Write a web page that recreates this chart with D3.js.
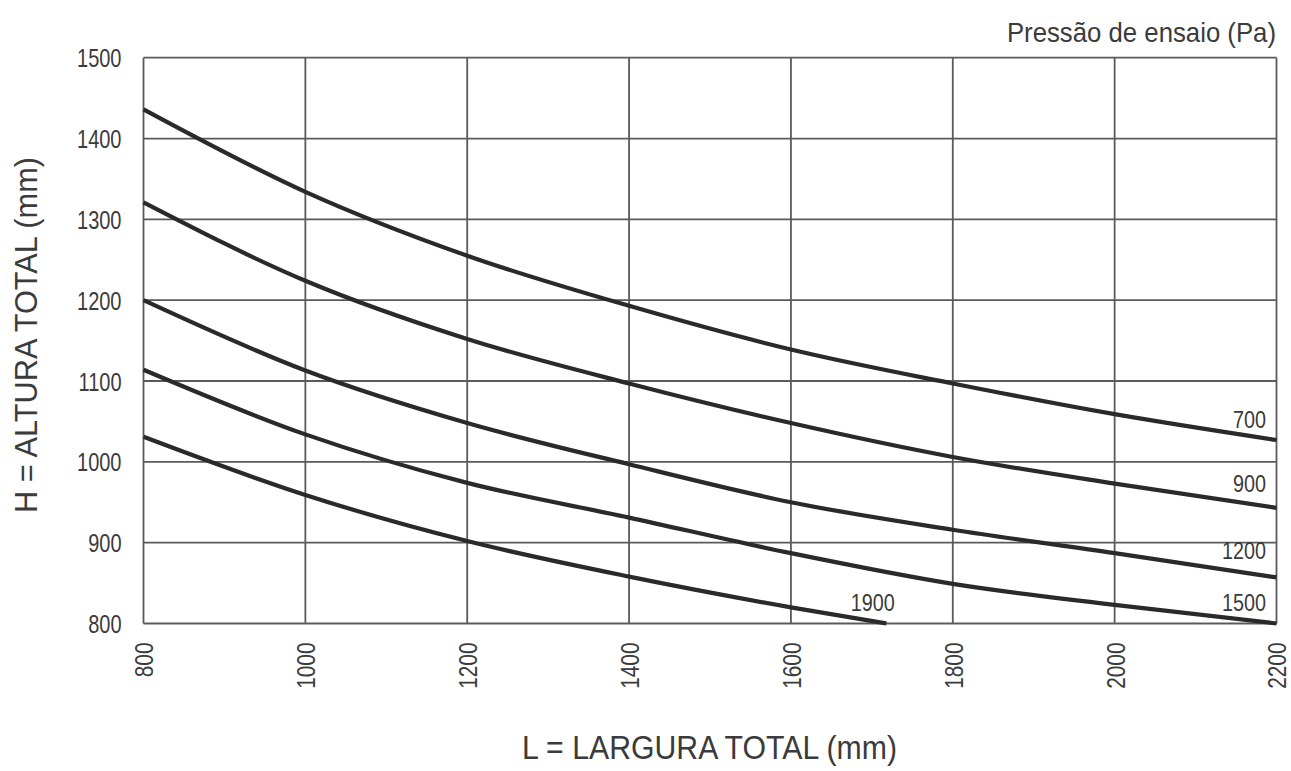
<!DOCTYPE html>
<html>
<head>
<meta charset="utf-8">
<script src="https://cdn.jsdelivr.net/npm/d3@7"></script>
<style>
  html, body { margin: 0; padding: 0; background: #fff; }
  svg text { font-family: "Liberation Sans", Arial, sans-serif; fill: #3b3b3b; }
</style>
</head>
<body>
<svg id="chart" width="1291" height="771"></svg>
<script>
// ---- data ----
const widths = [800, 1000, 1200, 1400, 1600, 1800, 2000, 2200];
const pressures = ["700", "900", "1200", "1500", "1900"];
const h700  = [1436, 1334, 1255, 1193, 1139, 1097, 1059, 1027];
const h900  = [1321, 1224, 1152, 1097, 1048, 1006, 973, 943];
const h1200 = [1200, 1113, 1048, 997, 950, 916, 887, 857];
const h1500 = [1114, 1034, 974, 931, 887, 849, 823, 800];
const widths1900 = [800, 1000, 1200, 1400, 1600, 1718];
const h1900 = [1031, 959, 902, 858, 820, 800];
const xTicks = [800, 1000, 1200, 1400, 1600, 1800, 2000, 2200];
const yTicks = [800, 900, 1000, 1100, 1200, 1300, 1400, 1500];
const xTitle = "L = LARGURA TOTAL (mm)";
const yTitle = "H = ALTURA TOTAL (mm)";
const legendTitle = "Pressão de ensaio (Pa)";

const series = [
  { name: "700",  xs: widths, ys: h700 },
  { name: "900",  xs: widths, ys: h900 },
  { name: "1200", xs: widths, ys: h1200 },
  { name: "1500", xs: widths, ys: h1500 },
  { name: "1900", xs: widths1900, ys: h1900 }
];

// ---- layout ----
const svg = d3.select("#chart");
const pLeft = 143.5, pRight = 1276.5, pTop = 57.7, pBottom = 623.5;
const x = d3.scaleLinear().domain([800, 2200]).range([pLeft, pRight]);
const y = d3.scaleLinear().domain([800, 1500]).range([pBottom, pTop]);

const gridColor = "#5a5a5a";
const textColor = "#3b3b3b";
const squeeze = 0.8;

// grid
const g = svg.append("g");
g.selectAll("line.v").data(xTicks).enter().append("line")
  .attr("x1", d => x(d)).attr("x2", d => x(d))
  .attr("y1", pTop).attr("y2", pBottom)
  .attr("stroke", gridColor).attr("stroke-width", 1.8);
g.selectAll("line.h").data(yTicks).enter().append("line")
  .attr("x1", pLeft).attr("x2", pRight)
  .attr("y1", d => y(d)).attr("y2", d => y(d))
  .attr("stroke", gridColor).attr("stroke-width", 1.8);

// axes tick labels
const yAxis = d3.axisLeft(y).tickValues(yTicks).tickSize(0).tickFormat(d3.format("d"));
const ya = svg.append("g").attr("transform", `translate(${pLeft},0)`).call(yAxis);
ya.select(".domain").remove();
ya.attr("font-family", null).attr("font-size", null);
ya.selectAll("text").attr("font-size", 25).style("fill", textColor)
  .attr("x", 0).attr("dy", "0.36em")
  .attr("transform", `translate(-22,0) scale(${squeeze},1)`);

const xAxis = d3.axisBottom(x).tickValues(xTicks).tickSize(0).tickFormat(d3.format("d"));
const xa = svg.append("g").attr("transform", `translate(0,${pBottom})`).call(xAxis);
xa.select(".domain").remove();
xa.attr("font-family", null).attr("font-size", null);
xa.selectAll("text").attr("font-size", 26).style("fill", textColor)
  .attr("text-anchor", "end")
  .attr("x", 0).attr("y", 0).attr("dy", "0.36em")
  .attr("transform", `rotate(-90) translate(-19,0) scale(${squeeze},1)`);

// curves
const line = d3.line().curve(d3.curveMonotoneX);
svg.append("g").selectAll("path").data(series).enter().append("path")
  .attr("d", s => line(s.xs.map((v, i) => [x(v), y(s.ys[i])])))
  .attr("fill", "none").attr("stroke", "#2a2a2a").attr("stroke-width", 4.2)
  .attr("stroke-linecap", "butt");

// curve labels
const labelPos = [
  { name: "700",  lx: 2187, ly: 1042, anchor: "end" },
  { name: "900",  lx: 2187, ly: 963,  anchor: "end" },
  { name: "1200", lx: 2187, ly: 880,  anchor: "end" },
  { name: "1500", lx: 2187, ly: 815,  anchor: "end" },
  { name: "1900", lx: 1701, ly: 815,  anchor: "middle" }
];
svg.append("g").selectAll("text").data(labelPos).enter().append("text")
  .attr("transform", d => `translate(${x(d.lx)},${y(d.ly)}) scale(0.86,1)`)
  .attr("text-anchor", d => d.anchor)
  .attr("font-size", 23)
  .text(d => d.name);

// titles
svg.append("text")
  .attr("transform", "translate(1276,41.5) scale(0.92,1)")
  .attr("text-anchor", "end").attr("font-size", 28)
  .text(legendTitle);

svg.append("text").attr("x", 709.5).attr("y", 759)
  .attr("text-anchor", "middle").attr("font-size", 33)
  .attr("textLength", 375).attr("lengthAdjust", "spacingAndGlyphs")
  .text(xTitle);

svg.append("text")
  .attr("transform", `translate(37,335) rotate(-90)`)
  .attr("text-anchor", "middle").attr("font-size", 32)
  .attr("textLength", 356).attr("lengthAdjust", "spacingAndGlyphs")
  .text(yTitle);
</script>
</body>
</html>
